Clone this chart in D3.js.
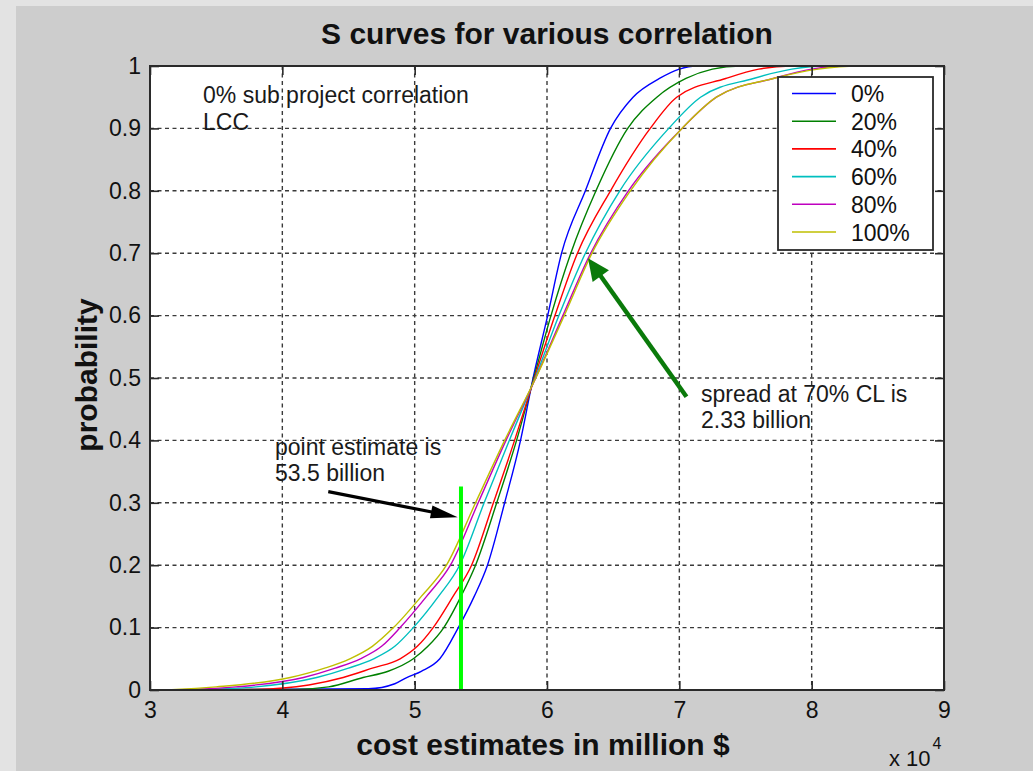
<!DOCTYPE html>
<html>
<head>
<meta charset="utf-8">
<script src="https://cdn.jsdelivr.net/npm/d3@7"></script>
<style>
  html, body { margin: 0; padding: 0; background: #e3e3e3; }
  svg { display: block; font-family: "Liberation Sans", Arial, sans-serif; }
</style>
</head>
<body>
<svg id="chart" width="1033" height="771"></svg>
<script>
// Cumulative probability of total cost (million $) for each sub-project correlation level
const seriesNames = ["0%", "20%", "40%", "60%", "80%", "100%"];
const seriesColors = ["#0000ff", "#008000", "#ff0000", "#00bfbf", "#bf00bf", "#bfbf00"];

const cost0 = [30000,46500,48500,49400,50500,51900,53300,54500,55500,56800,58000,58950,60050,61100,62900,64800,66500,68500,70000,71300,90000];
const prob0 = [0,0.002,0.01,0.02,0.03,0.05,0.1,0.15,0.2,0.3,0.4,0.5,0.6,0.7,0.8,0.9,0.95,0.98,0.995,1,1];

const cost20 = [30000,41000,43500,46100,48000,49900,51000,52200,53500,54600,56200,57700,59000,60300,61800,63700,66100,68300,70500,72500,74600,90000];
const prob20 = [0,0.001,0.005,0.02,0.03,0.05,0.07,0.1,0.15,0.2,0.3,0.4,0.5,0.6,0.7,0.8,0.9,0.95,0.98,0.995,1,1];

const cost40 = [30000,38000,42000,44600,46800,48900,50200,51400,52900,54300,55950,57550,59050,60600,62300,64800,67800,69800,73500,76000,78400,90000];
const prob40 = [0,0.001,0.008,0.02,0.035,0.05,0.07,0.1,0.15,0.2,0.3,0.4,0.5,0.6,0.7,0.8,0.9,0.95,0.98,0.995,1,1];

const cost60 = [30000,34000,38000,42600,45000,46900,48500,49900,51800,53400,55250,57150,59100,60900,62900,65500,69200,71600,75600,78500,81100,90000];
const prob60 = [0,0.001,0.005,0.02,0.035,0.05,0.07,0.1,0.15,0.2,0.3,0.4,0.5,0.6,0.7,0.8,0.9,0.95,0.98,0.995,1,1];

const cost80 = [30000,33000,36500,41600,44000,45900,47500,48900,50900,52700,54800,56900,59150,61200,63300,66150,70200,72800,77100,80000,82700,90000];
const prob80 = [0,0.001,0.005,0.02,0.035,0.05,0.07,0.1,0.15,0.2,0.3,0.4,0.5,0.6,0.7,0.8,0.9,0.95,0.98,0.995,1,1];

const cost100 = [30000,32000,35000,40600,43200,45100,46800,48400,50500,52400,54600,56800,59150,61300,63400,66300,70200,72800,77100,80500,83500,90000];
const prob100 = [0,0.001,0.005,0.02,0.035,0.05,0.07,0.1,0.15,0.2,0.3,0.4,0.5,0.6,0.7,0.8,0.9,0.95,0.98,0.995,1,1];

const costSeries = [cost0, cost20, cost40, cost60, cost80, cost100];
const probSeries = [prob0, prob20, prob40, prob60, prob80, prob100];

const xTicks = [30000, 40000, 50000, 60000, 70000, 80000, 90000];
const xTickLabels = ["3", "4", "5", "6", "7", "8", "9"];
const yTicks = [0, 0.1, 0.2, 0.3, 0.4, 0.5, 0.6, 0.7, 0.8, 0.9, 1];
const yTickLabels = ["0", "0.1", "0.2", "0.3", "0.4", "0.5", "0.6", "0.7", "0.8", "0.9", "1"];

// Point estimate (million $) and the probability the marker line reaches
const pointEstimate = 53500;
const pointEstimateTop = 0.326;

// Annotation arrows in data units: [cost, probability]
const blackArrowFrom = [43470, 0.318];
const blackArrowTo = [53250, 0.277];
const greenArrowFrom = [70540, 0.470];
const greenArrowTo = [63100, 0.692];

// ---- layout ----
const svg = d3.select("#chart");
const W = 1033, H = 771;
const plot = { left: 150, right: 944, top: 66, bottom: 690 };

svg.append("rect").attr("x", 16).attr("y", 6).attr("width", W - 16).attr("height", H - 6).attr("fill", "#cdcdcd");

const x = d3.scaleLinear().domain([30000, 90000]).range([plot.left, plot.right]);
const y = d3.scaleLinear().domain([0, 1]).range([plot.bottom, plot.top]);

svg.append("rect")
  .attr("x", plot.left).attr("y", plot.top)
  .attr("width", plot.right - plot.left).attr("height", plot.bottom - plot.top)
  .attr("fill", "#ffffff");

// grid
const grid = svg.append("g").attr("stroke", "#3a3a3a").attr("stroke-width", 1.4).attr("stroke-dasharray", "4,3.5");
grid.selectAll("line.vx").data(xTicks.slice(1, -1)).join("line")
  .attr("x1", d => x(d)).attr("x2", d => x(d)).attr("y1", plot.top).attr("y2", plot.bottom);
grid.selectAll("line.hy").data(yTicks.slice(1, -1)).join("line")
  .attr("x1", plot.left).attr("x2", plot.right).attr("y1", d => y(d)).attr("y2", d => y(d));

// curves
const line = d3.line().x(d => x(d[0])).y(d => y(d[1])).curve(d3.curveMonotoneX);
const curves = svg.append("g").attr("fill", "none").attr("stroke-width", 1.4);
costSeries.forEach((cs, i) => {
  const pts = cs.map((c, j) => [c, probSeries[i][j]]);
  curves.append("path").attr("d", line(pts)).attr("stroke", seriesColors[i]);
});

// point estimate marker
svg.append("line")
  .attr("x1", x(pointEstimate)).attr("x2", x(pointEstimate))
  .attr("y1", y(0)).attr("y2", y(pointEstimateTop))
  .attr("stroke", "#00ff00").attr("stroke-width", 4);

// axes (ticks inside on all four sides)
const tickLen = 9;
const axB = d3.axisBottom(x).tickValues(xTicks).tickSize(-tickLen).tickFormat((d, i) => xTickLabels[i]).tickPadding(12);
const axT = d3.axisTop(x).tickValues(xTicks).tickSize(-tickLen).tickFormat("");
const axL = d3.axisLeft(y).tickValues(yTicks).tickSize(-tickLen).tickFormat((d, i) => yTickLabels[i]).tickPadding(9);
const axR = d3.axisRight(y).tickValues(yTicks).tickSize(-tickLen).tickFormat("");

function styleAxis(g) {
  g.selectAll(".tick line").attr("stroke", "#2a2a2a").attr("stroke-width", 1.6);
  g.selectAll(".tick text").attr("fill", "#111").attr("font-size", 23).attr("font-family", "Liberation Sans, Arial, sans-serif");
}
svg.append("g").attr("transform", `translate(0,${plot.bottom})`).call(axB).call(styleAxis);
svg.append("g").attr("transform", `translate(0,${plot.top})`).call(axT).call(styleAxis);
svg.append("g").attr("transform", `translate(${plot.left},0)`).call(axL).call(styleAxis);
svg.append("g").attr("transform", `translate(${plot.right},0)`).call(axR).call(styleAxis);
svg.selectAll(".domain").remove();
svg.append("rect")
  .attr("x", plot.left).attr("y", plot.top)
  .attr("width", plot.right - plot.left).attr("height", plot.bottom - plot.top)
  .attr("fill", "none").attr("stroke", "#2a2a2a").attr("stroke-width", 2);

// exponent label
const expo = svg.append("text").attr("x", 889).attr("y", 766).attr("font-size", 22).attr("fill", "#111");
expo.append("tspan").text("x 10");
expo.append("tspan").attr("dy", -17).attr("dx", 2).attr("font-size", 16).text("4");

// titles
svg.append("text").attr("x", (plot.left + plot.right) / 2).attr("y", 44)
  .attr("text-anchor", "middle").attr("font-size", 30).attr("font-weight", "bold").attr("fill", "#111")
  .text("S curves for various correlation");
svg.append("text").attr("x", (plot.left + plot.right) / 2 - 4).attr("y", 755)
  .attr("text-anchor", "middle").attr("font-size", 30).attr("font-weight", "bold").attr("fill", "#111")
  .text("cost estimates in million $");
svg.append("text").attr("transform", `translate(97,${(plot.top + plot.bottom) / 2 - 3}) rotate(-90)`)
  .attr("text-anchor", "middle").attr("font-size", 30).attr("font-weight", "bold").attr("fill", "#111")
  .text("probability");

// legend
const legend = svg.append("g");
legend.append("rect").attr("x", 778).attr("y", 77).attr("width", 155).attr("height", 173)
  .attr("fill", "#ffffff").attr("stroke", "#2a2a2a").attr("stroke-width", 1.8);
seriesNames.forEach((name, i) => {
  const ly = 93.5 + i * 27.7;
  legend.append("line").attr("x1", 792).attr("x2", 836).attr("y1", ly).attr("y2", ly)
    .attr("stroke", seriesColors[i]).attr("stroke-width", 1.6);
  legend.append("text").attr("x", 851).attr("y", ly + 8.5).attr("font-size", 23).attr("fill", "#111").text(name);
});

// annotations
function arrow(from, to, color, width, headLen, headHalf) {
  const x0 = x(from[0]), y0 = y(from[1]), x1 = x(to[0]), y1 = y(to[1]);
  const dx = x1 - x0, dy = y1 - y0, len = Math.hypot(dx, dy);
  const ux = dx / len, uy = dy / len;
  const bx = x1 - ux * headLen, by = y1 - uy * headLen;
  svg.append("line").attr("x1", x0).attr("y1", y0).attr("x2", bx + ux * 2).attr("y2", by + uy * 2)
    .attr("stroke", color).attr("stroke-width", width);
  svg.append("path")
    .attr("d", `M${x1},${y1}L${bx - uy * headHalf},${by + ux * headHalf}L${bx + uy * headHalf},${by - ux * headHalf}Z`)
    .attr("fill", color);
}
arrow(blackArrowFrom, blackArrowTo, "#000000", 3.2, 27, 6.5);
arrow(greenArrowFrom, greenArrowTo, "#0a7a0a", 4.5, 22, 10);

function note(px, py, lines) {
  const t = svg.append("text").attr("font-size", 23).attr("fill", "#1a1a1a");
  lines.forEach((s, i) => t.append("tspan").attr("x", px).attr("y", py + i * 26.5).text(s));
}
note(203, 103, ["0% sub project correlation", "LCC"]);
note(275, 454.5, ["point estimate is", "53.5 billion"]);
note(701, 401.5, ["spread at 70% CL is", "2.33 billion"]);
</script>
</body>
</html>
